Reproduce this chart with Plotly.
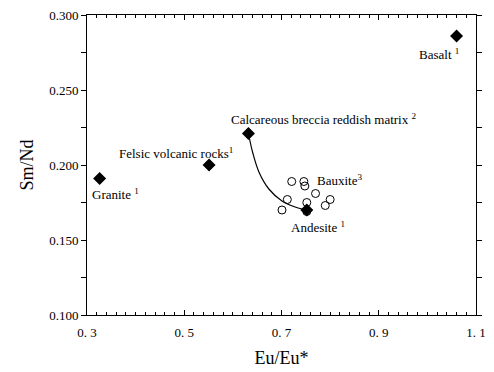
import plotly.graph_objects as go

# Reference samples (filled diamonds)
ref_names = ["Granite", "Felsic volcanic rocks", "Calcareous breccia reddish matrix", "Andesite", "Basalt"]
ref_x = [0.326, 0.551, 0.632, 0.752, 1.060]
ref_y = [0.191, 0.200, 0.221, 0.170, 0.286]

# Bauxite samples (open circles)
baux_x = [0.721, 0.746, 0.748, 0.770, 0.712, 0.752, 0.800, 0.790, 0.701, 0.752]
baux_y = [0.189, 0.189, 0.186, 0.181, 0.177, 0.175, 0.177, 0.173, 0.170, 0.169]

# Mixing curve
curve_x = [0.632, 0.641, 0.654, 0.674, 0.701, 0.728, 0.752]
curve_y = [0.221, 0.208, 0.195, 0.184, 0.176, 0.172, 0.170]

x_ticks = [0.3, 0.5, 0.7, 0.9, 1.1]
x_tick_labels = ["0. 3", "0. 5", "0. 7", "0. 9", "1. 1"]
y_ticks = [0.100, 0.150, 0.200, 0.250, 0.300]
y_tick_labels = ["0.100", "0.150", "0.200", "0.250", "0.300"]

FONT = "Liberation Serif"

fig = go.Figure()
fig.add_trace(go.Scatter(x=baux_x, y=baux_y, mode="markers",
                         marker=dict(symbol="circle-open", size=8, color="black", line=dict(width=1)),
                         showlegend=False))
fig.add_trace(go.Scatter(x=curve_x, y=curve_y, mode="lines",
                         line=dict(color="black", width=1.2, shape="spline"), showlegend=False))
fig.add_trace(go.Scatter(x=ref_x, y=ref_y, mode="markers",
                         marker=dict(symbol="diamond", size=10, color="black"),
                         showlegend=False))

labels = [
    ("Granite <sup>1</sup>", 0.306, 0.181),
    ("Felsic volcanic rocks<sup>1</sup>", 0.362, 0.208),
    ("Calcareous breccia reddish matrix <sup>2</sup>", 0.593, 0.231),
    ("Bauxite<sup>3</sup>", 0.768, 0.190),
    ("Andesite <sup>1</sup>", 0.716, 0.159),
    ("Basalt <sup>1</sup>", 0.979, 0.274),
]
for text, x, y in labels:
    fig.add_annotation(x=x, y=y, text=text, showarrow=False, xanchor="left", yanchor="middle",
                       font=dict(family=FONT, size=13, color="black"))

fig.update_layout(
    width=494, height=372,
    margin=dict(l=87, r=8, t=15, b=56),
    paper_bgcolor="white", plot_bgcolor="white",
    font=dict(family=FONT, color="black"),
    xaxis=dict(range=[0.3, 1.1], tickvals=x_ticks, ticktext=x_tick_labels,
               ticks="inside", ticklen=5, tickwidth=1, tickcolor="black",
               minor=dict(dtick=0.02, ticks="inside", ticklen=3, tickcolor="black"),
               showline=True, linecolor="black", linewidth=1, mirror="ticks",
               showgrid=False, zeroline=False, tickfont=dict(size=13, family=FONT),
               ticklabelstandoff=5,
               title=dict(text="Eu/Eu*", font=dict(size=18, family=FONT), standoff=12)),
    yaxis=dict(range=[0.1, 0.3], tickvals=y_ticks, ticktext=y_tick_labels,
               ticks="outside", ticklen=5, tickwidth=1, tickcolor="black",
               minor=dict(dtick=0.025, ticks="outside", ticklen=5, tickcolor="black"),
               showline=True, linecolor="black", linewidth=1, mirror="ticks",
               showgrid=False, zeroline=False, tickfont=dict(size=13, family=FONT),
               title=dict(text="Sm/Nd", font=dict(size=18, family=FONT), standoff=10)),
)

fig.write_html("out.html")
